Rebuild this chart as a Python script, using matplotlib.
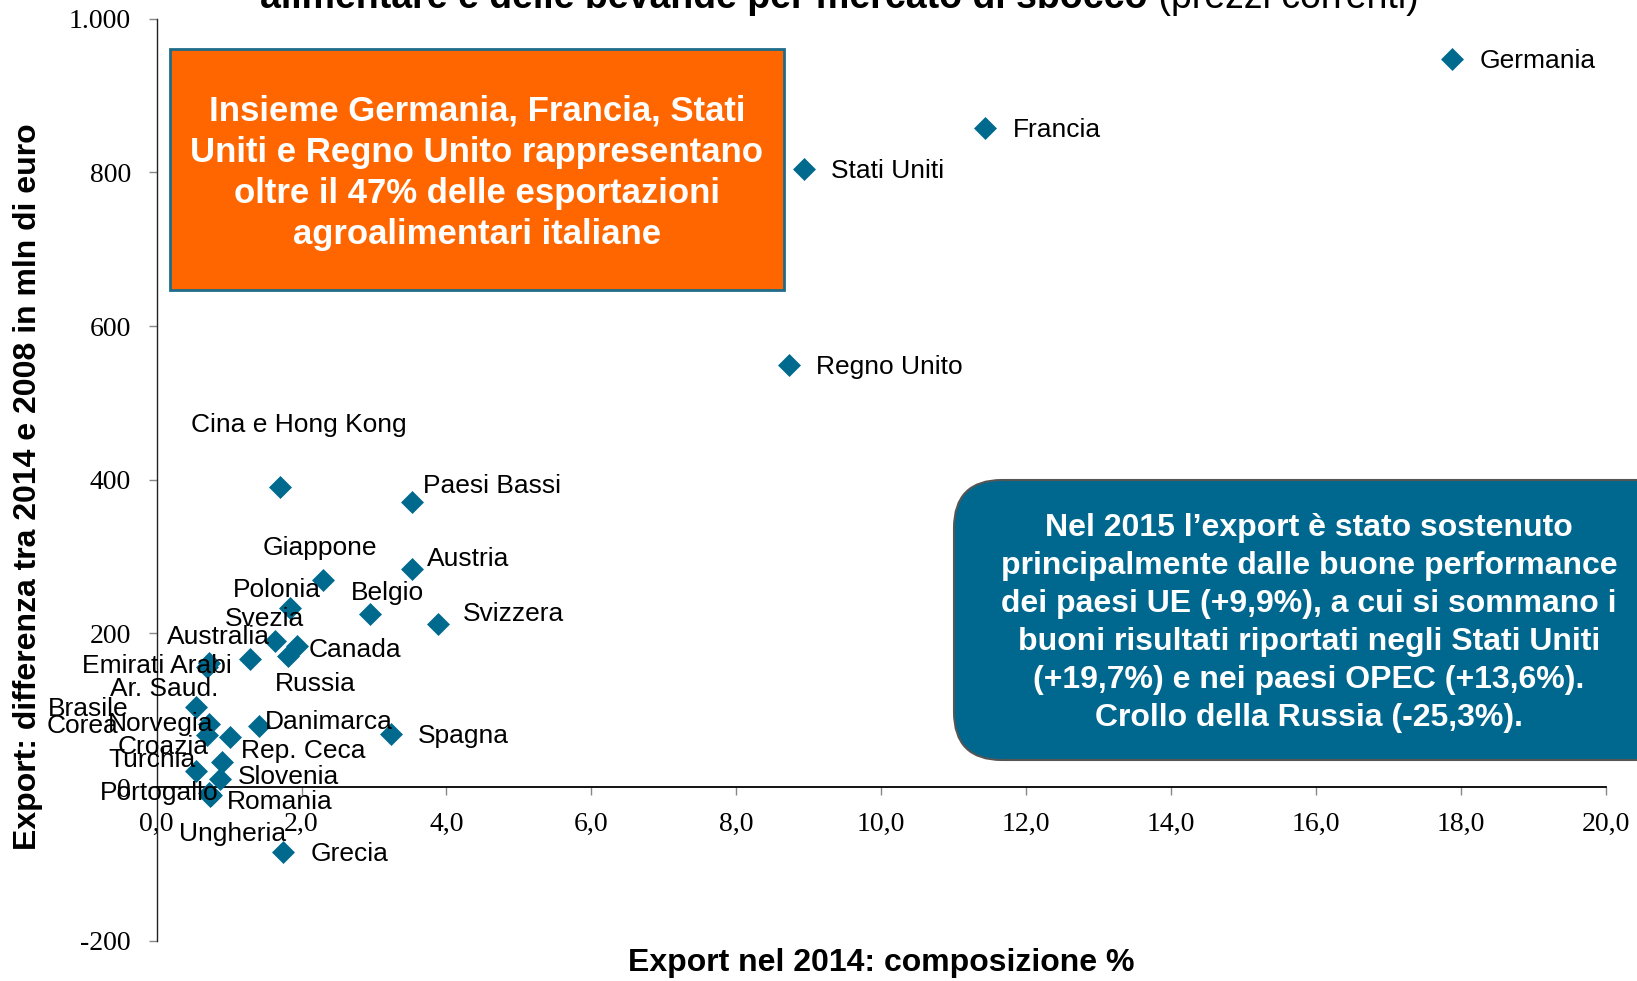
import matplotlib
matplotlib.use("Agg")
import matplotlib.pyplot as plt
from matplotlib.patches import Rectangle, FancyBboxPatch
from matplotlib.ticker import FixedLocator, FixedFormatter

# ---------------- data ----------------
countries = ["Germania", "Francia", "Stati Uniti", "Regno Unito", "Cina e Hong Kong",
             "Paesi Bassi", "Austria", "Giappone", "Polonia", "Belgio", "Svizzera",
             "Svezia", "Australia", "Canada", "Emirati Arabi", "Russia", "Ar. Saud.",
             "Brasile", "Corea", "Norvegia", "Danimarca", "Spagna", "Croazia",
             "Rep. Ceca", "Turchia", "Slovenia", "Portogallo", "Romania", "Ungheria",
             "Grecia"]
share_2014 = [17.88, 11.43, 8.93, 8.73, 1.70, 3.52, 3.53, 2.29, 1.84, 2.94, 3.89,
              1.63, 1.29, 1.94, 0.73, 1.81, 0.70, 0.54, 0.73, 0.69, 1.42, 3.23, 0.90,
              1.01, 0.55, 0.87, 0.73, 0.75, 0.74, 1.75]
diff_2014_2008 = [948, 858, 804, 549, 390, 371, 284, 269, 233, 225, 212,
                  190, 167, 183, 162, 171, 156, 104, 82, 68, 79, 69, 33,
                  65, 21, 11, -8, -10, -12, -85]

x_ticks = [0, 2, 4, 6, 8, 10, 12, 14, 16, 18, 20]
x_tick_labels = ["0,0", "2,0", "4,0", "6,0", "8,0", "10,0", "12,0", "14,0", "16,0", "18,0", "20,0"]
y_ticks = [-200, 0, 200, 400, 600, 800, 1000]
y_tick_labels = ["-200", "0", "200", "400", "600", "800", "1.000"]

# label placement: offset in pixels (dx, dy up) and horizontal alignment
label_offsets = {
    "Germania": (28, 0, "left"), "Francia": (28, 0, "left"),
    "Stati Uniti": (27, 0, "left"), "Regno Unito": (27, 0, "left"),
    "Cina e Hong Kong": (-89, 64, "left"), "Paesi Bassi": (11, 18, "left"),
    "Austria": (15, 12, "left"), "Giappone": (-3, 34, "center"),
    "Polonia": (-13, 20, "center"), "Belgio": (18, 23, "center"),
    "Svizzera": (24, 12, "left"), "Svezia": (-10, 24, "center"),
    "Australia": (-32, 24, "center"), "Canada": (11, -2, "left"),
    "Emirati Arabi": (-53, -1, "center"), "Russia": (28, -26, "center"),
    "Ar. Saud.": (-43, -20, "center"), "Brasile": (-108, 0, "center"),
    "Corea": (-127, 0, "center"), "Norvegia": (-46, 13, "center"),
    "Danimarca": (5, 6, "left"), "Spagna": (27, 0, "left"),
    "Croazia": (-59, 17, "center"), "Rep. Ceca": (11, -12, "left"),
    "Turchia": (-44, 13, "center"), "Slovenia": (18, 4, "left"),
    "Portogallo": (-50, 2, "center"), "Romania": (16, -5, "left"),
    "Ungheria": (22, -36, "center"), "Grecia": (27, 0, "left"),
}
LABEL_SHIFT = -2  # small vertical correction for text centring

W, H = 1637, 981
MARKER = "#006A8E"
plt.rcParams["font.family"] = ["Liberation Sans", "DejaVu Sans"]

fig = plt.figure(figsize=(W / 100, H / 100), dpi=100)
fig.patch.set_facecolor("white")

def fx(px):
    return px / W

def fy(py):
    return 1 - py / H

ax = fig.add_axes([fx(156.6), fy(940.7), fx(1605.7) - fx(156.6), fy(18.8) - fy(940.7)])
ax.set_xlim(0, 20)
ax.set_ylim(-200, 1000)
ax.set_facecolor("none")

ax.scatter(share_2014, diff_2014_2008, marker="D", s=11.7 ** 2, color=MARKER,
           linewidths=0, zorder=3)

for name, xv, yv in zip(countries, share_2014, diff_2014_2008):
    dx, dy, ha = label_offsets[name]
    ax.annotate(name, (xv, yv), xytext=(dx, dy + LABEL_SHIFT), textcoords="offset pixels",
                ha=ha, va="center", fontsize=19, color="black", zorder=4)

# spines
for s in ["top", "right"]:
    ax.spines[s].set_visible(False)
ax.spines["bottom"].set_position(("data", 0))
ax.spines["bottom"].set_color("black")
ax.spines["bottom"].set_linewidth(1.3)
ax.spines["left"].set_color("#222222")
ax.spines["left"].set_linewidth(1.0)

ax.xaxis.set_major_locator(FixedLocator(x_ticks))
ax.xaxis.set_major_formatter(FixedFormatter(x_tick_labels))
ax.yaxis.set_major_locator(FixedLocator(y_ticks))
ax.yaxis.set_major_formatter(FixedFormatter(y_tick_labels))
ax.tick_params(axis="x", direction="out", length=6, width=1, color="#888888",
               pad=12, labelsize=20, labelfontfamily="Liberation Serif")
ax.tick_params(axis="y", direction="out", length=5.5, width=1, color="#888888",
               pad=13, labelsize=20, labelfontfamily="Liberation Serif")

# axis titles
fig.text(fx(881), fy(963), "Export nel 2014: composizione %", ha="center", va="center",
         fontsize=23, fontweight="bold")
fig.text(fx(28), fy(487), "Export: differenza tra 2014 e 2008 in mln di euro",
         rotation=90, ha="center", va="center", fontsize=23, fontweight="bold")

# overlay in pixel coordinates for callout boxes and title
ov = fig.add_axes([0, 0, 1, 1])
ov.set_xlim(0, W)
ov.set_ylim(H, 0)
ov.axis("off")
ov.patch.set_alpha(0)

ov.add_patch(Rectangle((170, 49), 614, 241, facecolor="#FF6600",
                       edgecolor="#1F6C8A", linewidth=2, zorder=5))
ov.text(477, 173, "Insieme Germania, Francia, Stati\nUniti e Regno Unito rappresentano\n"
        "oltre il 47% delle esportazioni\nagroalimentari italiane",
        ha="center", va="center", color="white", fontsize=25, fontweight="bold",
        linespacing=1.31, zorder=6)

ov.add_patch(FancyBboxPatch((954, 480), 760, 280,
                            boxstyle="round,pad=0,rounding_size=48",
                            facecolor="#00688F", edgecolor="#555555", linewidth=1.5,
                            zorder=5))
ov.text(1309, 623, "Nel 2015 l\u2019export è stato sostenuto\n"
        "principalmente dalle buone performance\n"
        "dei paesi UE (+9,9%), a cui si sommano i\n"
        "buoni risultati riportati negli Stati Uniti\n"
        "(+19,7%) e nei paesi OPEC (+13,6%).\n"
        "Crollo della Russia (-25,3%).",
        ha="center", va="center", color="white", fontsize=23, fontweight="bold",
        linespacing=1.34, zorder=6)

# title (partly cut off at the top)
t1 = ov.text(260, 8, "alimentare e delle bevande per mercato di sbocco",
             ha="left", va="baseline", fontsize=27, fontweight="bold", zorder=6)
fig.canvas.draw()
bb = t1.get_window_extent()
x_end = bb.x1
ov.text(x_end, 8, " (prezzi correnti)", ha="left", va="baseline", fontsize=27,
        zorder=6)

fig.savefig("out.png", dpi=100, facecolor="white")
